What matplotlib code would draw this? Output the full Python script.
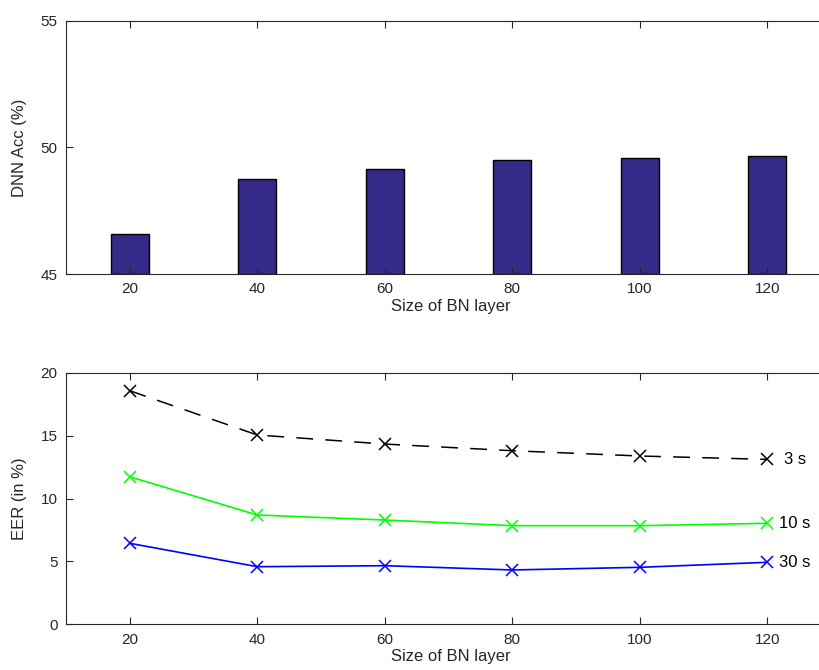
import numpy as np
import matplotlib.pyplot as plt

plt.rcParams['font.family'] = ['Liberation Sans', 'DejaVu Sans']

# data
bn_size = [20, 40, 60, 80, 100, 120]
dnn_acc = [46.57, 48.76, 49.16, 49.50, 49.57, 49.67]
eer_3s = [18.57, 15.05, 14.33, 13.80, 13.38, 13.11]
eer_10s = [11.73, 8.69, 8.29, 7.84, 7.84, 8.03]
eer_30s = [6.44, 4.58, 4.66, 4.32, 4.53, 4.93]
dur_labels = ['3 s', '10 s', '30 s']

axc = '#262626'
fig = plt.figure(figsize=(8.19, 6.7), dpi=100)

def style(ax):
    for s in ax.spines.values():
        s.set_color(axc)
        s.set_linewidth(0.8)
    ax.tick_params(direction='in', top=True, right=True, colors=axc,
                   labelsize=11, length=5, width=0.8, pad=6)

# top: DNN accuracy bars
ax1 = fig.add_axes([66/819, 0.591, 770/819, 0.378])
ax1.bar(bn_size, [a - 45 for a in dnn_acc], bottom=45, width=6,
        color='#352A87', edgecolor='black', linewidth=1.0)
ax1.set_xlim(10, 130.8)
ax1.set_ylim(45, 55)
ax1.set_xticks(bn_size)
ax1.set_yticks([45, 50, 55])
ax1.set_xlabel('Size of BN layer', fontsize=12, color=axc, labelpad=2)
ax1.set_ylabel('DNN Acc (%)', fontsize=12, color=axc, labelpad=10)
style(ax1)

# bottom: EER lines
ax2 = fig.add_axes([66/819, 0.0682, 770/819, 0.3755])
ax2.plot(bn_size, eer_3s, color='black', ls=(0, (11, 8)), lw=1.1,
         marker='x', ms=8, mew=1.1)
ax2.plot(bn_size, eer_10s, color='#00ff00', lw=1.2, marker='x', ms=8, mew=1.1)
ax2.plot(bn_size, eer_30s, color='blue', lw=1.2, marker='x', ms=8, mew=1.1)
for lab, ser in zip(dur_labels, [eer_3s, eer_10s, eer_30s]):
    x0 = 122.6 if lab == '3 s' else 121.9
    ax2.text(x0, ser[-1], lab, fontsize=12, color='black', va='center', ha='left')
ax2.set_xlim(10, 130.8)
ax2.set_ylim(0, 20)
ax2.set_xticks(bn_size)
ax2.set_yticks([0, 5, 10, 15, 20])
ax2.set_xlabel('Size of BN layer', fontsize=12, color=axc, labelpad=2)
ax2.set_ylabel('EER (in %)', fontsize=12, color=axc, labelpad=10)
style(ax2)

fig.savefig('out.png', dpi=100)
